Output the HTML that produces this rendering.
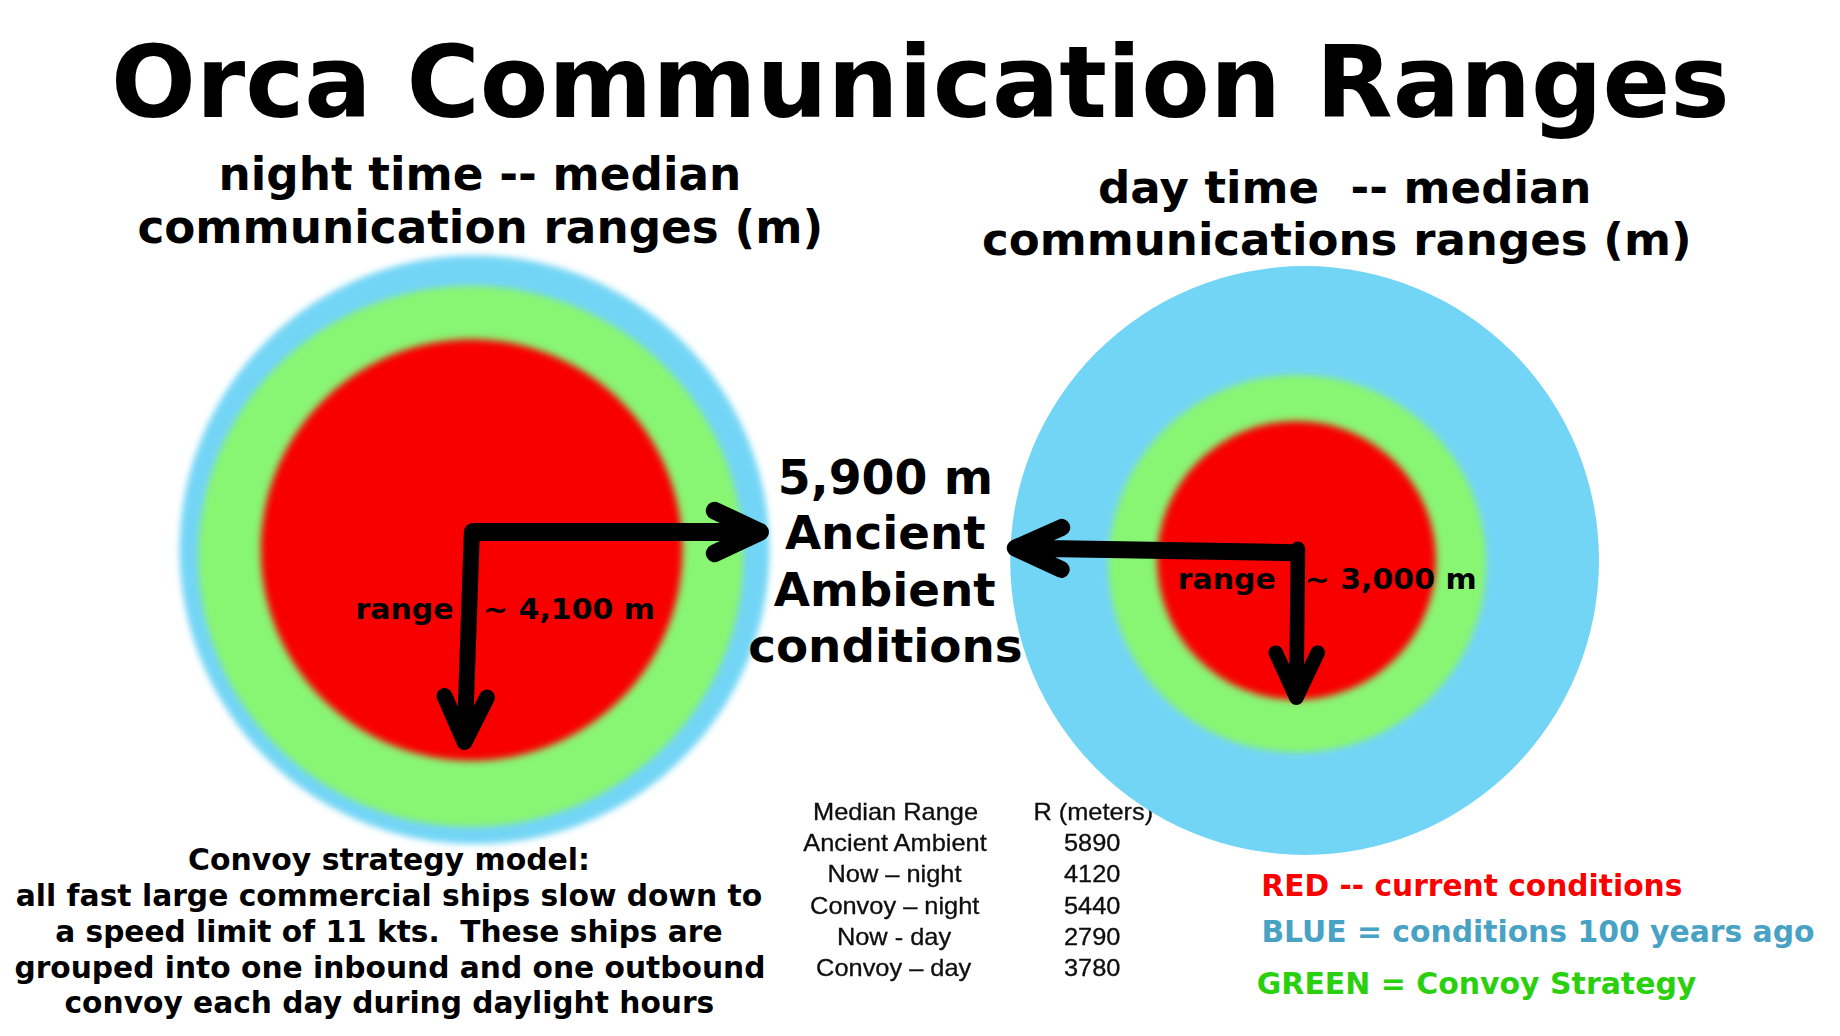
<!DOCTYPE html>
<html lang="en">
<head>
<meta charset="utf-8">
<title>Orca Communication Ranges</title>
<style>
  html, body { margin: 0; padding: 0; background: #ffffff; }
  body { width: 1840px; height: 1036px; overflow: hidden; }
  svg { display: block; }
  text { white-space: pre; }
  .b { font-family: "DejaVu Sans", "Liberation Sans", sans-serif; font-weight: bold; fill: #000; }
  .t { font-family: "Liberation Sans", "DejaVu Sans", sans-serif; font-weight: normal; fill: #0c0c0c; font-size: 24px; stroke: #0c0c0c; stroke-width: 0.3px; }
</style>
</head>
<body>
<svg width="1840" height="1036" viewBox="0 0 1840 1036">
  <defs>
    <filter id="blur4" x="-10%" y="-10%" width="120%" height="120%"><feGaussianBlur stdDeviation="3.4"/></filter>
    <filter id="blur2" x="-10%" y="-10%" width="120%" height="120%"><feGaussianBlur stdDeviation="3.4"/></filter>
    <filter id="soft" x="-2%" y="-5%" width="104%" height="110%"><feGaussianBlur stdDeviation="0.35"/></filter>
    <filter id="blur1" x="-10%" y="-10%" width="120%" height="120%"><feGaussianBlur stdDeviation="3.6"/></filter>
  </defs>
  <rect x="0" y="0" width="1840" height="1036" fill="#ffffff"/>

  <!-- table (sits under the right blue circle) -->
  <g class="t" text-anchor="middle" filter="url(#soft)">
    <text transform="translate(895.5 819.7) scale(1.058 1)">Median Range</text>
    <text transform="translate(1093.3 819.7) scale(1.058 1)">R (meters)</text>
    <text transform="translate(895 851.0) scale(1.058 1)">Ancient Ambient</text>
    <text transform="translate(1092.2 851.0) scale(1.058 1)">5890</text>
    <text transform="translate(894.5 882.3) scale(1.058 1)">Now – night</text>
    <text transform="translate(1092.2 882.3) scale(1.058 1)">4120</text>
    <text transform="translate(894.7 913.6) scale(1.058 1)">Convoy – night</text>
    <text transform="translate(1092.2 913.6) scale(1.058 1)">5440</text>
    <text transform="translate(894 945.0) scale(1.058 1)">Now - day</text>
    <text transform="translate(1092.2 945.0) scale(1.058 1)">2790</text>
    <text transform="translate(893.7 976.3) scale(1.058 1)">Convoy – day</text>
    <text transform="translate(1092.2 976.3) scale(1.058 1)">3780</text>
  </g>

  <!-- left (night) circles -->
  <ellipse cx="474.5" cy="549.75" rx="295" ry="294.3" fill="#73d5f5" filter="url(#blur4)"/>
  <ellipse cx="470.85" cy="556.3" rx="272.5" ry="270.3" fill="#88f573" filter="url(#blur2)"/>
  <circle cx="471.65" cy="550" r="210.85" fill="#f80000" filter="url(#blur1)"/>

  <!-- right (day) circles -->
  <circle cx="1304.6" cy="560.5" r="294.4" fill="#73d5f5"/>
  <circle cx="1297.3" cy="563.7" r="188.8" fill="#88f573" filter="url(#blur2)"/>
  <circle cx="1296.5" cy="560.4" r="139.5" fill="#f80000" filter="url(#blur1)"/>

  <!-- range labels (under arrows) -->
  <g class="b" font-size="28.9">
    <text transform="translate(355.5 619.4) scale(1.038 1)">range</text>
    <text transform="translate(483 619.4) scale(1.038 1)">~ 4,100 m</text>
    <text transform="translate(1177.7 589.4) scale(1.038 1)">range</text>
    <text transform="translate(1304.7 589.4) scale(1.038 1)">~ 3,000 m</text>
  </g>

  <!-- arrows -->
  <g fill="none" stroke="#000" stroke-linecap="round" stroke-linejoin="round">
    <path d="M474 532 L760 532 M714.7 510.7 L760 532 L714.7 553.3" stroke-width="17.8"/>
    <path d="M471.9 531.5 L464.6 742 M444.5 696 L464.6 742 L487 697.5" stroke-width="16"/>
    <path d="M1295 552.7 L1015.3 548 M1061.7 527.4 L1015.3 548 L1061.2 569.4" stroke-width="17"/>
    <path d="M1297.9 548.9 L1296.4 697.6 M1275.8 652.7 L1296.4 697.6 L1317.7 652.7" stroke-width="14.6"/>
  </g>

  <!-- title -->
  <text class="b" x="111.05" y="117" font-size="99.85">Orca Communication Ranges</text>

  <!-- sub headings -->
  <g class="b" font-size="45.3">
    <text x="218.5" y="190">night time -- median</text>
    <text x="137.4" y="242.5">communication ranges (m)</text>
    <text x="1098.1" y="202.6" font-size="45.1" xml:space="preserve">day time  -- median</text>
    <text x="982" y="254.7" font-size="45.1">communications ranges (m)</text>
  </g>

  <!-- centre text -->
  <g class="b" font-size="46.8">
    <text x="777.8" y="493.8" font-size="47.3">5,900 m</text>
    <text x="784.9" y="549.4">Ancient</text>
    <text x="773.7" y="605.7">Ambient</text>
    <text x="748.2" y="662.4">conditions</text>
  </g>

  <!-- convoy paragraph -->
  <g class="b" font-size="29.7">
    <text x="188" y="869.6" font-size="29.9">Convoy strategy model:</text>
    <text x="15.8" y="905.6" font-size="29.75">all fast large commercial ships slow down to</text>
    <text x="55.2" y="941.6" font-size="29.63" xml:space="preserve">a speed limit of 11 kts.  These ships are</text>
    <text x="14.4" y="977.5">grouped into one inbound and one outbound</text>
    <text x="64.5" y="1013.3">convoy each day during daylight hours</text>
  </g>

  <!-- legend -->
  <g class="b" font-size="29.8">
    <text x="1261.3" y="895.9" font-size="29.69" style="fill:#fa0000">RED -- current conditions</text>
    <text x="1261.4" y="941.9" style="fill:#47a2c4">BLUE = conditions 100 years ago</text>
    <text x="1256.8" y="993.9" font-size="29.93" style="fill:#2ad00e">GREEN = Convoy Strategy</text>
  </g>
</svg>
</body>
</html>
